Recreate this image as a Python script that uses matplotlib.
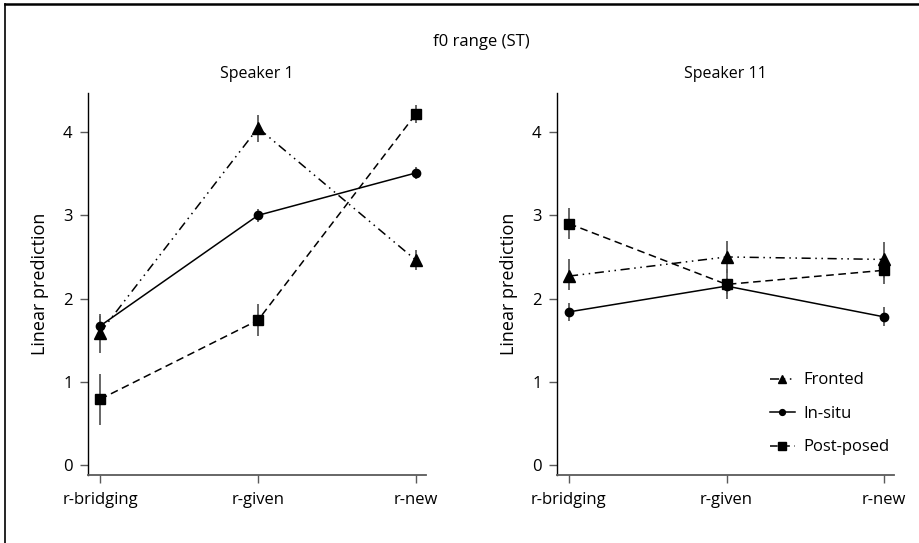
import matplotlib.pyplot as plt
from matplotlib.lines import Line2D

plt.rcParams["font.family"] = ["Open Sans", "DejaVu Sans"]
plt.rcParams["font.size"] = 12

# categories on the x axis
categories = ["r-bridging", "r-given", "r-new"]
series = ["Fronted", "In-situ", "Post-posed"]

# Speaker 1: predicted values and 95% CI bounds
sp1_fronted = [1.59, 4.05, 2.46]
sp1_fronted_lo = [1.35, 3.88, 2.34]
sp1_fronted_hi = [1.82, 4.21, 2.58]
sp1_insitu = [1.67, 3.00, 3.51]
sp1_insitu_lo = [1.55, 2.92, 3.44]
sp1_insitu_hi = [1.79, 3.08, 3.58]
sp1_postposed = [0.79, 1.74, 4.22]
sp1_postposed_lo = [0.48, 1.55, 4.11]
sp1_postposed_hi = [1.09, 1.93, 4.33]

# Speaker 11
sp11_fronted = [2.27, 2.50, 2.47]
sp11_fronted_lo = [2.10, 2.31, 2.25]
sp11_fronted_hi = [2.47, 2.69, 2.68]
sp11_insitu = [1.84, 2.15, 1.78]
sp11_insitu_lo = [1.73, 2.05, 1.67]
sp11_insitu_hi = [1.95, 2.25, 1.90]
sp11_postposed = [2.90, 2.17, 2.34]
sp11_postposed_lo = [2.72, 1.99, 2.17]
sp11_postposed_hi = [3.09, 2.35, 2.52]

styles = {
    "Fronted": dict(ls=(0, (6, 3, 1, 3, 1, 3)), marker="^", ms=8),
    "In-situ": dict(ls="-", marker="o", ms=6),
    "Post-posed": dict(ls=(0, (5, 3)), marker="s", ms=7.5),
}

panels = [
    ("Speaker 1", [(sp1_fronted, sp1_fronted_lo, sp1_fronted_hi),
                   (sp1_insitu, sp1_insitu_lo, sp1_insitu_hi),
                   (sp1_postposed, sp1_postposed_lo, sp1_postposed_hi)]),
    ("Speaker 11", [(sp11_fronted, sp11_fronted_lo, sp11_fronted_hi),
                    (sp11_insitu, sp11_insitu_lo, sp11_insitu_hi),
                    (sp11_postposed, sp11_postposed_lo, sp11_postposed_hi)]),
]

fig = plt.figure(figsize=(9.19, 5.43), dpi=100)

# outer frame
fig.add_artist(Line2D([5 / 919, 5 / 919], [0, 1 - 4 / 543], color="black", lw=1.2))
fig.add_artist(Line2D([5 / 919, 1], [1 - 4 / 543, 1 - 4 / 543], color="black", lw=1.8))

axes_pos = [[88 / 919, 68 / 543, 338 / 919, 382 / 543],
            [557 / 919, 68 / 543, 337 / 919, 382 / 543]]

x = list(range(len(categories)))
grey = "#5a5a5a"

for pos, (title, data) in zip(axes_pos, panels):
    ax = fig.add_axes(pos)
    for name, (vals, lo, hi) in zip(series, data):
        st = styles[name]
        ax.vlines(x, lo, hi, color=grey, lw=1.3, zorder=2)
        ax.plot(x, vals, color="black", lw=1.1, ls=st["ls"], marker=st["marker"],
                ms=st["ms"], mfc="black", mec="black", zorder=3, label=name)
    ax.set_xlim(-0.076, 2.063)
    ax.set_ylim(-0.12, 4.47)
    ax.set_xticks(x)
    ax.set_xticklabels(categories)
    ax.set_yticks([0, 1, 2, 3, 4])
    ax.set_ylabel("Linear prediction", labelpad=10, fontsize=13)
    ax.set_title(title, pad=11, fontsize=11.5)
    for s in ["top", "right"]:
        ax.spines[s].set_visible(False)
    ax.spines["left"].set_color("black")
    ax.spines["bottom"].set_color(grey)
    ax.spines["left"].set_linewidth(1.0)
    ax.spines["bottom"].set_linewidth(1.3)
    ax.tick_params(axis="both", colors=grey, labelcolor="black", length=6, width=1.0,
                   labelsize=12)
    ax.tick_params(axis="x", pad=6)
    ax.tick_params(axis="y", pad=5)

    if title == "Speaker 11":
        ax.legend(loc="lower right", bbox_to_anchor=(1.03, 0.012), frameon=False,
                  handlelength=1.5, handletextpad=0.5, labelspacing=1.05,
                  fontsize=12, markerscale=0.7)

fig.text(481 / 919, 1 - 42 / 543, "f0 range (ST)", ha="center", va="center", fontsize=12)

fig.savefig("out.png", dpi=100)
